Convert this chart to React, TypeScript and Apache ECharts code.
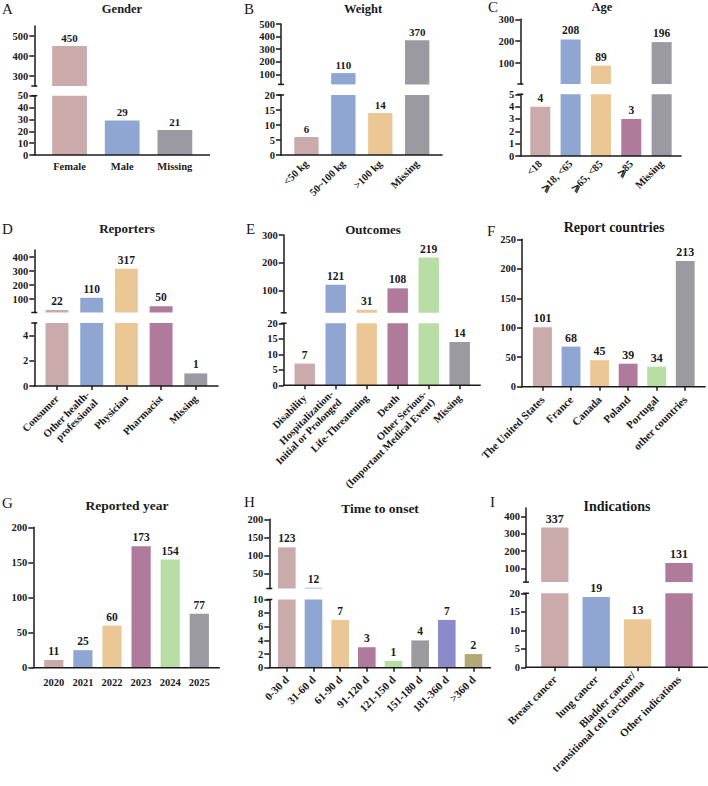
import React, { useEffect, useRef } from "react";
import * as echarts from "echarts";

// ---------- data ----------
const genderCats = ["Female", "Male", "Missing"];
const genderVals = [450, 29, 21];

const weightCats = ["<50 kg", "50~100 kg", ">100 kg", "Missing"];
const weightVals = [6, 110, 14, 370];

const ageCats = ["<18", "⩾18, <65", "⩾65, <85", "⩾85", "Missing"];
const ageVals = [4, 208, 89, 3, 196];

const reporterCats = ["Consumer", "Other health-\nprofessional", "Physician", "Pharmacist", "Missing"];
const reporterVals = [22, 110, 317, 50, 1];

const outcomeCats = [
  "Disability",
  "Hospitalization-\nInitial or Prolonged",
  "Life-Threatening",
  "Death",
  "Other Serious-\n(Important Medical Event)",
  "Missing",
];
const outcomeVals = [7, 121, 31, 108, 219, 14];

const countryCats = ["The United States", "France", "Canada", "Poland", "Portugal", "other countries"];
const countryVals = [101, 68, 45, 39, 34, 213];

const yearCats = ["2020", "2021", "2022", "2023", "2024", "2025"];
const yearVals = [11, 25, 60, 173, 154, 77];

const onsetCats = ["0-30 d", "31-60 d", "61-90 d", "91-120 d", "121-150 d", "151-180 d", "181-360 d", ">360 d"];
const onsetVals = [123, 12, 7, 3, 1, 4, 7, 2];

const indicationCats = ["Breast cancer", "lung cancer", "Bladder cancer/\ntransitional cell carcinoma", "Other indications"];
const indicationVals = [337, 19, 13, 131];

// tick values
const genderUpperTicks = [300, 400, 500];
const genderLowerTicks = [0, 10, 20, 30, 40, 50];
const weightUpperTicks = [100, 200, 300, 400, 500];
const weightLowerTicks = [0, 5, 10, 15, 20];
const ageUpperTicks = [100, 200, 300];
const ageLowerTicks = [0, 1, 2, 3, 4, 5];
const reporterUpperTicks = [100, 200, 300, 400];
const reporterLowerTicks = [0, 2, 4];
const outcomeUpperTicks = [100, 200, 300];
const outcomeLowerTicks = [0, 5, 10, 15, 20];
const countryTicks = [0, 50, 100, 150, 200, 250];
const yearTicks = [0, 50, 100, 150, 200];
const onsetUpperTicks = [50, 100, 150, 200];
const onsetLowerTicks = [0, 2, 4, 6, 8, 10];
const indicationUpperTicks = [100, 200, 300, 400];
const indicationLowerTicks = [0, 5, 10, 15, 20];

// ---------- styles ----------
const PINK = "#CBAAAC";
const BLUE = "#8FA6D2";
const GRAY = "#9B9AA0";
const ORANGE = "#ECC796";
const PURPLE = "#B07A9B";
const GREEN = "#B8DEA6";
const VIOLET = "#8B8BCB";
const OLIVE = "#B2AA74";

const FONT = '"Liberation Serif", "Times New Roman", serif';
const INK = "#1a1a1a";
const LW = 1.5;

type Seg = { top: number; bottom: number; min: number; max: number; ticks: number[] };
type Panel = {
  letter: string;
  lx: number;
  ly: number;
  title: string;
  tx: number;
  ty: number;
  tsize: number;
  cats: string[];
  vals: number[];
  colors: string[];
  ax: number;
  gl: number;
  gw: number;
  upper?: Seg;
  lower: Seg;
  rotate: number;
  xTicks: boolean;
  catSize: number;
  valSize: number;
  margin: number;
};

const panels: Panel[] = [
  {
    letter: "A", lx: 2, ly: 9, title: "Gender", tx: 122, ty: 9, tsize: 12.5,
    cats: genderCats, vals: genderVals, colors: [PINK, BLUE, GRAY],
    ax: 34.3, gl: 43.2, gw: 158,
    upper: { top: 26, bottom: 86, min: 250, max: 550, ticks: genderUpperTicks },
    lower: { top: 95.7, bottom: 155, min: 0, max: 50, ticks: genderLowerTicks },
    rotate: 0, xTicks: false, catSize: 10.5, valSize: 11, margin: 6,
  },
  {
    letter: "B", lx: 244, ly: 9, title: "Weight", tx: 363, ty: 9, tsize: 12.5,
    cats: weightCats, vals: weightVals, colors: [PINK, BLUE, ORANGE, GRAY],
    ax: 281, gl: 288, gw: 147.6,
    upper: { top: 24, bottom: 84.4, min: 20, max: 500, ticks: weightUpperTicks },
    lower: { top: 95, bottom: 155, min: 0, max: 20, ticks: weightLowerTicks },
    rotate: 45, xTicks: false, catSize: 10.5, valSize: 11, margin: 7,
  },
  {
    letter: "C", lx: 488, ly: 7, title: "Age", tx: 602, ty: 7, tsize: 12.5,
    cats: ageCats, vals: ageVals, colors: [PINK, BLUE, ORANGE, PURPLE, GRAY],
    ax: 520.3, gl: 525.1, gw: 151.7,
    upper: { top: 19.3, bottom: 84, min: 5, max: 300, ticks: ageUpperTicks },
    lower: { top: 94.3, bottom: 156, min: 0, max: 5, ticks: ageLowerTicks },
    rotate: 45, xTicks: false, catSize: 10.5, valSize: 11.5, margin: 6,
  },
  {
    letter: "D", lx: 2, ly: 229, title: "Reporters", tx: 127, ty: 228.5, tsize: 13,
    cats: reporterCats, vals: reporterVals, colors: [PINK, BLUE, ORANGE, PURPLE, GRAY],
    ax: 34.3, gl: 39.65, gw: 173.5,
    upper: { top: 250, bottom: 312.5, min: 5, max: 450, ticks: reporterUpperTicks },
    lower: { top: 323, bottom: 386, min: 0, max: 5, ticks: reporterLowerTicks },
    rotate: 45, xTicks: true, catSize: 10.5, valSize: 11.5, margin: 11,
  },
  {
    letter: "E", lx: 246, ly: 229, title: "Outcomes", tx: 373, ty: 229, tsize: 13,
    cats: outcomeCats, vals: outcomeVals, colors: [PINK, BLUE, ORANGE, PURPLE, GREEN, GRAY],
    ax: 283.7, gl: 289.2, gw: 186,
    upper: { top: 235, bottom: 312.8, min: 20, max: 300, ticks: outcomeUpperTicks },
    lower: { top: 323.3, bottom: 385.3, min: 0, max: 20, ticks: outcomeLowerTicks },
    rotate: 45, xTicks: true, catSize: 10.5, valSize: 11.5, margin: 11,
  },
  {
    letter: "F", lx: 487, ly: 231, title: "Report countries", tx: 614, ty: 227.5, tsize: 14,
    cats: countryCats, vals: countryVals, colors: [PINK, BLUE, ORANGE, PURPLE, GREEN, GRAY],
    ax: 522, gl: 528.2, gw: 171.3,
    lower: { top: 239.3, bottom: 386.7, min: 0, max: 250, ticks: countryTicks },
    rotate: 45, xTicks: true, catSize: 11, valSize: 12, margin: 11,
  },
  {
    letter: "G", lx: 2, ly: 503, title: "Reported year", tx: 127, ty: 505, tsize: 13.5,
    cats: yearCats, vals: yearVals, colors: [PINK, BLUE, ORANGE, PURPLE, GREEN, GRAY],
    ax: 33.3, gl: 39.25, gw: 174.6,
    lower: { top: 527.3, bottom: 667.7, min: 0, max: 200, ticks: yearTicks },
    rotate: 0, xTicks: false, catSize: 10.5, valSize: 11.5, margin: 9,
  },
  {
    letter: "H", lx: 244, ly: 502, title: "Time to onset", tx: 380, ty: 508, tsize: 13.5,
    cats: onsetCats, vals: onsetVals, colors: [PINK, BLUE, ORANGE, PURPLE, GREEN, GRAY, VIOLET, OLIVE],
    ax: 269.3, gl: 273.5, gw: 213.3,
    upper: { top: 519.3, bottom: 588.5, min: 10, max: 200, ticks: onsetUpperTicks },
    lower: { top: 599.5, bottom: 667.7, min: 0, max: 10, ticks: onsetLowerTicks },
    rotate: 45, xTicks: true, catSize: 11, valSize: 11.5, margin: 10,
  },
  {
    letter: "I", lx: 490, ly: 502, title: "Indications", tx: 617, ty: 506, tsize: 14,
    cats: indicationCats, vals: indicationVals, colors: [PINK, BLUE, ORANGE, PURPLE],
    ax: 526, gl: 534.1, gw: 165.6,
    upper: { top: 508.1, bottom: 582.1, min: 20, max: 450, ticks: indicationUpperTicks },
    lower: { top: 593.3, bottom: 667.3, min: 0, max: 20, ticks: indicationLowerTicks },
    rotate: 45, xTicks: true, catSize: 11, valSize: 12, margin: 10,
  },
];

function buildOption() {
  const grid: any[] = [];
  const xAxis: any[] = [];
  const yAxis: any[] = [];
  const series: any[] = [];
  const graphic: any[] = [];

  panels.forEach((p) => {
    const off = p.gl - p.ax;
    const axisEnd = p.gl + p.gw + off;

    graphic.push({
      type: "text",
      x: p.lx,
      y: p.ly,
      style: { text: p.letter, font: `normal 15px ${FONT}`, fill: INK, textAlign: "left", textVerticalAlign: "middle" },
    });
    graphic.push({
      type: "text",
      x: p.tx,
      y: p.ty,
      style: { text: p.title, font: `bold ${p.tsize}px ${FONT}`, fill: INK, textAlign: "center", textVerticalAlign: "middle" },
    });
    // x axis baseline, spanning from the y axis to the end
    graphic.push({
      type: "line",
      shape: { x1: p.ax - 0.75, y1: p.lower.bottom, x2: axisEnd, y2: p.lower.bottom },
      style: { stroke: INK, lineWidth: LW },
      z: 10,
    });
    if (p.upper) {
      graphic.push({
        type: "line",
        shape: { x1: p.ax - 3, y1: p.upper.bottom, x2: p.ax + 3, y2: p.upper.bottom },
        style: { stroke: INK, lineWidth: LW },
        z: 10,
      });
      graphic.push({
        type: "line",
        shape: { x1: p.ax - 3, y1: p.lower.top, x2: p.ax + 3, y2: p.lower.top },
        style: { stroke: INK, lineWidth: LW },
        z: 10,
      });
    }

    const segs: { seg: Seg; kind: "upper" | "lower" }[] = [];
    if (p.upper) segs.push({ seg: p.upper, kind: "upper" });
    segs.push({ seg: p.lower, kind: "lower" });

    segs.forEach(({ seg, kind }) => {
      const gi = grid.length;
      grid.push({
        left: p.gl,
        top: seg.top,
        width: p.gw,
        height: seg.bottom - seg.top,
        containLabel: false,
        outerBoundsMode: "none",
      });
      xAxis.push({
        type: "category",
        gridIndex: gi,
        data: p.cats,
        show: kind === "lower",
        axisLine: { show: false },
        axisTick: { show: p.xTicks, alignWithLabel: true, length: 4, lineStyle: { color: INK, width: LW } },
        axisLabel: {
          show: true,
          interval: 0,
          rotate: p.rotate,
          margin: p.margin,
          fontFamily: FONT,
          fontWeight: "bold",
          fontSize: p.catSize,
          color: INK,
          lineHeight: p.catSize + 1,
        },
        splitLine: { show: false },
      });
      yAxis.push({
        type: "value",
        gridIndex: gi,
        min: seg.min,
        max: seg.max,
        offset: off,
        axisLine: { show: true, lineStyle: { color: INK, width: LW } },
        axisTick: { show: true, customValues: seg.ticks, length: 5, lineStyle: { color: INK, width: LW } },
        axisLabel: {
          show: true,
          customValues: seg.ticks,
          margin: 6,
          fontFamily: FONT,
          fontWeight: "bold",
          fontSize: 10.5,
          color: INK,
        },
        splitLine: { show: false },
      });
      const hasUpper = !!p.upper;
      const data = p.vals.map((v, i) => {
        if (kind === "upper" && v <= seg.min) return "-";
        const showLabel = kind === "upper" ? true : !hasUpper || v <= seg.max;
        return {
          value: v,
          itemStyle: { color: p.colors[i % p.colors.length] },
          label: { show: showLabel },
        };
      });
      series.push({
        type: "bar",
        xAxisIndex: gi,
        yAxisIndex: gi,
        barWidth: "66%",
        clip: true,
        data,
        label: {
          show: true,
          position: "top",
          distance: 3,
          fontFamily: FONT,
          fontWeight: "bold",
          fontSize: p.valSize,
          color: INK,
        },
      });
    });
  });

  return {
    animation: false,
    backgroundColor: "#ffffff",
    textStyle: { fontFamily: FONT },
    grid,
    xAxis,
    yAxis,
    series,
    graphic,
  };
}

export default function App() {
  const ref = useRef<HTMLDivElement>(null);
  useEffect(() => {
    if (!ref.current) return;
    const chart = echarts.init(ref.current, null, { renderer: "svg" });
    chart.setOption(buildOption() as any);
    return () => chart.dispose();
  }, []);
  return (
    <div
      ref={ref}
      style={{ position: "fixed", left: 0, top: 0, width: 708, height: 786, background: "#fff" }}
    />
  );
}
